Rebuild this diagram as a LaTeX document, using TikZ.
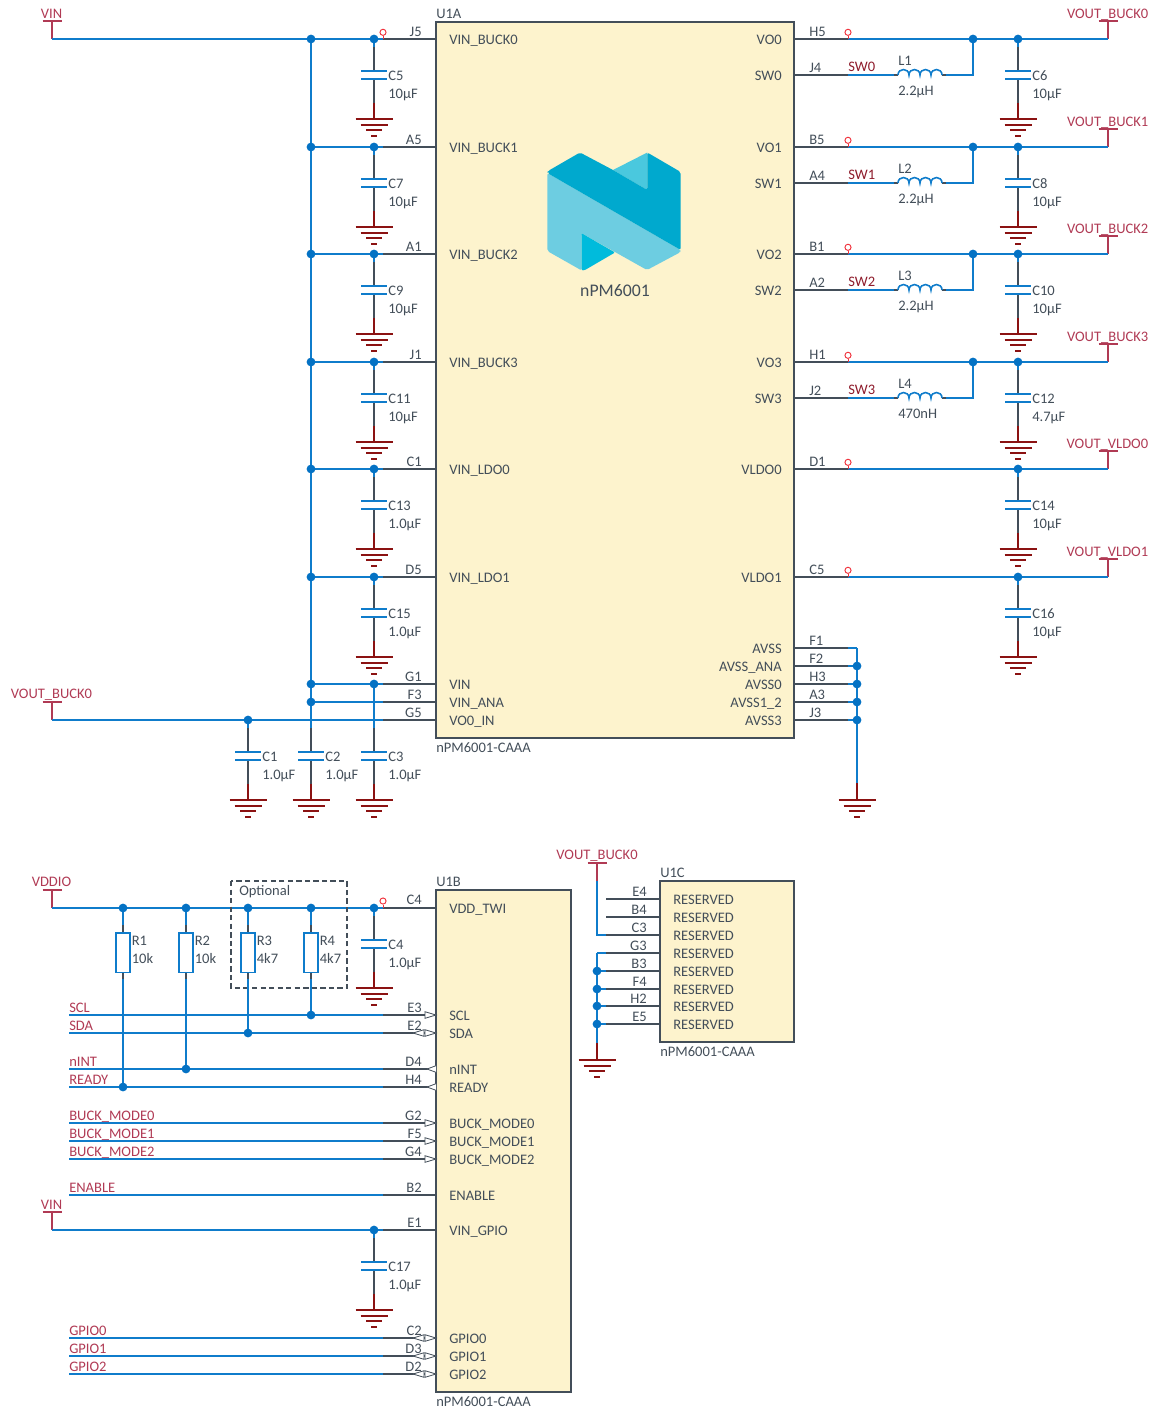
\documentclass[tikz,border=0pt]{standalone}
\usepackage{fontspec}
\setmainfont{Carlito}
\usetikzlibrary{positioning, calc}
\definecolor{wireblue}{HTML}{0F7CCB}
\definecolor{dotblue}{HTML}{0472C4}
\definecolor{pingray}{HTML}{434E59}
\definecolor{textgray}{HTML}{434E59}
\definecolor{railred}{HTML}{B03A54}
\definecolor{netred}{HTML}{8E1B2B}
\definecolor{gndred}{HTML}{8B1212}
\definecolor{tpred}{HTML}{F0323C}
\definecolor{chipfill}{HTML}{FDF3CD}
\definecolor{logolight}{HTML}{6DCDE1}
\definecolor{logodark}{HTML}{00A9CE}
\definecolor{logomid}{HTML}{4AC8DE}
\definecolor{logobright}{HTML}{00BBDC}
\tikzset{
  wire/.style={line width=1.2pt, color=wireblue},
  pinwire/.style={line width=1.2pt, color=pingray},
  gndwire/.style={line width=1.2pt, color=gndred},
  railwire/.style={line width=1.2pt, color=railred},
  junction/.style={circle, fill=dotblue, inner sep=0pt, minimum size=6.6pt},
  testpoint/.style={circle, draw=tpred, fill=white, line width=0.7pt, inner sep=0pt, minimum size=4.6pt},
  chip/.style={draw=pingray, fill=chipfill, line width=1.2pt},
  txt/.style={inner sep=0pt, text=textgray, font=\fontsize{10.9}{13}\selectfont},
  pinlabel/.style={txt, anchor=base east},
  pinlabelr/.style={txt, anchor=base west},
  partlabel/.style={txt, anchor=base west},
  raillabel/.style={inner sep=0pt, text=railred, font=\fontsize{10.9}{13}\selectfont},
  port/.style={draw=pingray, fill=white, line width=0.6pt},
  res/.style={draw=wireblue, fill=white, line width=1.2pt},
  optbox/.style={draw=pingray, dash pattern=on 4pt off 2.4pt, line width=0.9pt}
}
\newcommand{\gndsym}[3]{%
  \coordinate (#1) at (#2,#3);
  \draw[gndwire] (#2-18.5,#3) -- (#2+18.5,#3);
  \draw[gndwire] (#2-13.5,#3+6) -- (#2+13.5,#3+6);
  \draw[gndwire] (#2-7.8,#3+11) -- (#2+7.8,#3+11);
  \draw[gndwire] (#2-2.8,#3+17) -- (#2+2.8,#3+17);
}
\newcommand{\capgnd}[5]{%
  \coordinate (#1in) at (#2,#3);
  \coordinate (#1pa) at (#2,#3+32);
  \coordinate (#1pb) at (#2,#3+40);
  \coordinate (#1red) at (#2,#3+64);
  \draw[pinwire] (#1in) -- (#1pa);
  \draw[pinwire] (#1pb) -- (#1red);
  \gndsym{#1gnd}{#2}{#3+80}
  \draw[gndwire] (#1red) -- (#1gnd);
  \draw[wire] (#1in) -- ++(0,8);
  \draw[wire] (#2-13,#3+32) -- (#2+13,#3+32);
  \draw[wire] (#2-13,#3+40) -- (#2+13,#3+40);
  \node[partlabel] (#1name) at (#2+14,#3+41) {#4};
  \node[partlabel] (#1val) at (#2+14,#3+59) {#5};
}
\newcommand{\railsym}[4]{%
  \coordinate (#1top) at (#2,#3);
  \coordinate (#1end) at (#2,#4);
  \draw[railwire] (#2-9.5,#3) -- (#2+9.5,#3);
  \draw[railwire] (#1top) -- (#1end);
}
\newcommand{\inmark}[1]{\draw[port] (425,#1-3.3) -- (436,#1) -- (425,#1+3.3) -- cycle;}
\newcommand{\outmark}[1]{\draw[port] (436,#1-3.3) -- (427,#1) -- (436,#1+3.3);}
\newcommand{\bimark}[1]{\inmark{#1}\draw[port] (424,#1-3.3) -- (413,#1) -- (424,#1+3.3) -- cycle;}
\begin{document}
\begin{tikzpicture}[x=0.75pt, y=-0.75pt]
\useasboundingbox (0,0) rectangle (1153,1407);
% chip blocks
\node[partlabel] (u1a) at (436,18.5) {U1A};
\draw[chip] (436,22) rectangle (794,738);
\node[partlabel] (u1apart) at (436,752) {nPM6001-CAAA};
\node[partlabel] (u1b) at (436,886.5) {U1B};
\draw[chip] (436,890) rectangle (571,1392);
\node[partlabel] (u1bpart) at (436,1406) {nPM6001-CAAA};
\node[partlabel] (u1c) at (660,877) {U1C};
\draw[chip] (660,881) rectangle (794,1042);
\node[partlabel] (u1cpart) at (660,1056) {nPM6001-CAAA};
% logo
\fill[color=logolight, rounded corners=1.5pt] (547.3,173) -- (680.7,250) -- (680.7,252) -- (647,270) -- (581.7,233.3) -- (581.7,270.5) -- (547.3,251) -- cycle;
\fill[color=logomid] (613,170) -- (647.3,152.5) -- (647.3,190) -- cycle;
\fill[color=logobright, rounded corners=0.8pt] (581.7,233.3) -- (615,252.5) -- (585,270) -- (581.7,270.5) -- cycle;
\fill[color=logodark, rounded corners=1.5pt] (547.3,173) -- (548,171) -- (580,152.5) -- (613,170) -- (647.3,190) -- (647.3,152.5) -- (680.7,172) -- (680.7,250) -- cycle;
\node[txt, font=\fontsize{13.3}{15}\selectfont] (logotext) at (615,291) {nPM6001};
% left rails of U1A
\foreach \n/\y/\pin/\pname/\cap/\val in {
  0/39/J5/VIN\_BUCK0/C5/10µF, 1/147/A5/VIN\_BUCK1/C7/10µF,
  2/254/A1/VIN\_BUCK2/C9/10µF, 3/362/J1/VIN\_BUCK3/C11/10µF,
  4/469/C1/VIN\_LDO0/C13/1.0µF, 5/577/D5/VIN\_LDO1/C15/1.0µF}{
  \capgnd{cap\n}{374}{\y}{\cap}{\val}
  \coordinate (lbus\n) at (311,\y);
  \coordinate (lcol\n) at (374,\y);
  \coordinate (lstub\n) at (383,\y);
  \coordinate (lpin\n) at (436,\y);
  \draw[wire] (lbus\n) -- (lstub\n);
  \draw[pinwire] (lstub\n) -- (lpin\n);
  \node[pinlabel] (pin\pin) at (422,\y-3) {\pin};
  \node[pinlabelr] (in\pin) at (449,\y+5.5) {\pname};
}
\coordinate (vinwest) at (52,39);
\railsym{vin}{52}{21}{39}
\node[raillabel, anchor=base] (vinname) at (51.5,18.3) {VIN};
\draw[wire] (vinwest) -- (lbus0);
\draw[wire] (lbus0) -- (311,729);
% lower pins of U1A
\foreach \n/\y/\pin/\pname in {6/684/G1/VIN, 7/702/F3/VIN\_ANA, 8/720/G5/VO0\_IN}{
  \coordinate (lstub\n) at (383,\y);
  \coordinate (lpin\n) at (436,\y);
  \draw[pinwire] (lstub\n) -- (lpin\n);
  \node[pinlabel] (pin\pin) at (422,\y-3) {\pin};
  \node[pinlabelr] (in\pin) at (449,\y+5) {\pname};
}
\coordinate (lbus6) at (311,684);
\coordinate (lbus7) at (311,702);
\coordinate (lcol6) at (374,684);
\coordinate (vobuck) at (52,720);
\railsym{vbk}{52}{702}{720}
\node[raillabel, anchor=base] (vbkname) at (51.5,698.3) {VOUT\_BUCK0};
\capgnd{capa}{248}{720}{C1}{1.0µF}
\capgnd{capb}{311}{720}{C2}{1.0µF}
\capgnd{capc}{374}{720}{C3}{1.0µF}
\draw[wire] (lbus6) -- (lstub6);
\draw[wire] (lbus7) -- (lstub7);
\draw[wire] (vobuck) -- (lstub8);
\draw[wire] (lcol6) -- (374,728);
\foreach \c in {lbus0,lcol0,lbus1,lcol1,lbus2,lcol2,lbus3,lcol3,lbus4,lcol4,lbus5,lcol5,lbus6,lcol6,lbus7,capain}
  \node[junction] at (\c) {};
\node[testpoint] (tpj5) at (383,32.3) {};
\draw[tpred, line width=0.7pt] (tpj5) -- (lstub0);
% right rails of U1A
\foreach \n/\y/\pin/\pname/\rail/\cap/\val in {
  0/39/H5/VO0/VOUT\_BUCK0/C6/10µF, 1/147/B5/VO1/VOUT\_BUCK1/C8/10µF,
  2/254/B1/VO2/VOUT\_BUCK2/C10/10µF, 3/362/H1/VO3/VOUT\_BUCK3/C12/4.7µF,
  4/469/D1/VLDO0/VOUT\_VLDO0/C14/10µF, 5/577/C5/VLDO1/VOUT\_VLDO1/C16/10µF}{
  \capgnd{rcap\n}{1018}{\y}{\cap}{\val}
  \coordinate (rpin\n) at (794,\y);
  \coordinate (rstub\n) at (848,\y);
  \coordinate (rcol\n) at (1018,\y);
  \coordinate (rrail\n) at (1108,\y);
  \railsym{rsym\n}{1108}{\y-18}{\y}
  \draw[pinwire] (rpin\n) -- (rstub\n);
  \draw[wire] (rstub\n) -- (rrail\n);
  \node[testpoint] (tp\pin) at (848,\y-6.7) {};
  \draw[tpred, line width=0.7pt] (tp\pin) -- (rstub\n);
  \node[pinlabelr] (pin\pin) at (809,\y-3) {\pin};
  \node[pinlabel] (out\pin) at (782,\y+5.5) {\pname};
  \node[raillabel, anchor=base east] (railname\n) at (1148.5,\y-20.8) {\rail};
  \node[junction] at (rcol\n) {};
}
% switch outputs with inductors
\foreach \n/\y/\top/\pin/\pname/\net/\ind/\val in {
  0/75/39/J4/SW0/SW0/L1/2.2µH, 1/183/147/A4/SW1/SW1/L2/2.2µH,
  2/290/254/A2/SW2/SW2/L3/2.2µH, 3/398/362/J2/SW3/SW3/L4/470nH}{
  \coordinate (spin\n) at (794,\y);
  \coordinate (sstub\n) at (848,\y);
  \coordinate (lin\n) at (894,\y);
  \coordinate (lout\n) at (946,\y);
  \coordinate (sjoin\n) at (973,\y);
  \coordinate (vjoin\n) at (973,\top);
  \draw[pinwire] (spin\n) -- (sstub\n);
  \draw[wire] (sstub\n) -- (lin\n);
  \draw[pinwire] (lin\n) -- (898,\y);
  \draw[wire] (lout\n) -- (sjoin\n) -- (vjoin\n);
  \draw[pinwire] (942,\y) -- (lout\n);
  \draw[wire] (898,\y) .. controls (898,\y-7.3) and (909,\y-7.3) .. (909,\y)
    .. controls (909,\y-7.3) and (920,\y-7.3) .. (920,\y)
    .. controls (920,\y-7.3) and (931,\y-7.3) .. (931,\y)
    .. controls (931,\y-7.3) and (942,\y-7.3) .. (942,\y);
  \node[pinlabelr] (pin\pin) at (809,\y-3) {\pin};
  \node[pinlabel] (out\pin) at (782,\y+5.5) {\pname};
  \node[inner sep=0pt, anchor=base west, text=netred, font=\fontsize{10.9}{13}\selectfont] (net\n) at (848,\y-3.3) {\net};
  \node[partlabel] (ind\n) at (898,\y-9.3) {\ind};
  \node[partlabel] (indv\n) at (898,\y+20) {\val};
  \node[junction] at (vjoin\n) {};
}
% analog ground pins
\foreach \n/\y/\pin/\pname in {0/648/F1/AVSS, 1/666/F2/AVSS\_ANA, 2/684/H3/AVSS0, 3/702/A3/AVSS1\_2, 4/720/J3/AVSS3}{
  \coordinate (apin\n) at (794,\y);
  \coordinate (astub\n) at (848,\y);
  \coordinate (abus\n) at (857,\y);
  \draw[pinwire] (apin\n) -- (astub\n);
  \draw[wire] (astub\n) -- (abus\n);
  \node[pinlabelr] (pin\pin) at (809,\y-3) {\pin};
  \node[pinlabel] (out\pin) at (782,\y+5) {\pname};
}
\coordinate (ared) at (857,783);
\gndsym{agnd}{857}{800}
\draw[wire] (abus0) -- (ared);
\draw[gndwire] (ared) -- (agnd);
\foreach \c in {abus1,abus2,abus3,abus4}
  \node[junction] at (\c) {};
% U1B supply
\coordinate (twiwest) at (52,908);
\railsym{vdd}{52}{890}{908}
\node[raillabel, anchor=base] (vddname) at (51.5,886.3) {VDDIO};
\capgnd{capd}{374}{908}{C4}{1.0µF}
\coordinate (twistub) at (383,908);
\coordinate (twipin) at (436,908);
\draw[wire] (twiwest) -- (twistub);
\draw[pinwire] (twistub) -- (twipin);
\node[pinlabel] (pinC4) at (422,904.5) {C4};
\node[pinlabelr] (inC4) at (449,913) {VDD\_TWI};
\node[testpoint] (tpc4) at (383,901) {};
\draw[tpred, line width=0.7pt] (tpc4) -- (twistub);
\draw[optbox] (231,881) rectangle (347,988);
\node[partlabel] (optname) at (239,895) {Optional};
% signal rows
\foreach \n/\y/\pin/\pname in {
  0/1015/E3/SCL, 1/1033/E2/SDA, 2/1069/D4/nINT, 3/1087/H4/READY,
  4/1123/G2/BUCK\_MODE0, 5/1141/F5/BUCK\_MODE1, 6/1159/G4/BUCK\_MODE2,
  7/1195/B2/ENABLE, 8/1338/C2/GPIO0, 9/1356/D3/GPIO1, 10/1374/D2/GPIO2}{
  \coordinate (swest\n) at (69,\y);
  \coordinate (sig\n) at (383,\y);
  \coordinate (spn\n) at (436,\y);
  \draw[wire] (swest\n) -- (sig\n);
  \draw[pinwire] (sig\n) -- (spn\n);
  \node[pinlabel] (pin\pin) at (422,\y-3) {\pin};
  \node[pinlabelr] (in\pin) at (449,\y+5.5) {\pname};
  \node[raillabel, anchor=base west] (signame\n) at (69,\y-3) {\pname};
}
\inmark{1015} \bimark{1033} \outmark{1069} \outmark{1087}
\inmark{1123} \inmark{1141} \inmark{1159}
\bimark{1338} \bimark{1356} \bimark{1374}
% pull-up resistors
\foreach \n/\x/\yend/\rname/\val in {1/123/1087/R1/10k, 2/186/1069/R2/10k, 3/248/1033/R3/4k7, 4/311/1015/R4/4k7}{
  \coordinate (rtop\n) at (\x,908);
  \coordinate (rend\n) at (\x,\yend);
  \draw[wire] (rtop\n) -- (\x,925);
  \draw[pinwire] (\x,925) -- (\x,933);
  \draw[pinwire] (\x,972) -- (\x,979);
  \draw[wire] (\x,979) -- (rend\n);
  \draw[res] (\x-6.8,933) rectangle (\x+6.8,972.5);
  \node[partlabel] (rname\n) at (\x+8.5,945) {\rname};
  \node[partlabel] (rval\n) at (\x+8.5,963) {\val};
  \node[junction] at (rtop\n) {};
  \node[junction] at (rend\n) {};
}
\node[junction] at (capdin) {};
% VIN_GPIO
\coordinate (gpiowest) at (52,1230);
\railsym{ving}{52}{1212}{1230}
\node[raillabel, anchor=base] (vingname) at (51.5,1209) {VIN};
\capgnd{cape}{374}{1230}{C17}{1.0µF}
\coordinate (gpiostub) at (383,1230);
\coordinate (gpiopin) at (436,1230);
\draw[wire] (gpiowest) -- (gpiostub);
\draw[pinwire] (gpiostub) -- (gpiopin);
\node[pinlabel] (pinE1) at (422,1227) {E1};
\node[pinlabelr] (inE1) at (449,1235.5) {VIN\_GPIO};
\node[junction] at (capein) {};
% U1C reserved pins
\foreach \n/\y/\pin in {0/899/E4, 1/917/B4, 2/935/C3, 3/953/G3, 4/971/B3, 5/989/F4, 6/1006/H2, 7/1024/E5}{
  \coordinate (cstub\n) at (606,\y);
  \coordinate (cpin\n) at (660,\y);
  \coordinate (cbus\n) at (597,\y);
  \draw[pinwire] (cstub\n) -- (cpin\n);
  \node[pinlabel] (resv\pin) at (647,\y-3) {\pin};
  \node[pinlabelr] (inr\pin) at (673,\y+5.5) {RESERVED};
}
\railsym{vbc}{597}{863}{881}
\node[raillabel, anchor=base] (vbcname) at (597,859.5) {VOUT\_BUCK0};
\draw[wire] (vbcend) -- (cbus2) -- (cstub2);
\foreach \n in {3,4,5,6,7}
  \draw[wire] (cbus\n) -- (cstub\n);
\coordinate (cred) at (597,1042.5);
\gndsym{cgnd}{597}{1060}
\draw[wire] (cbus3) -- (cred);
\draw[gndwire] (cred) -- (cgnd);
\foreach \n in {4,5,6,7}
  \node[junction] at (cbus\n) {};
\end{tikzpicture}
\end{document}
